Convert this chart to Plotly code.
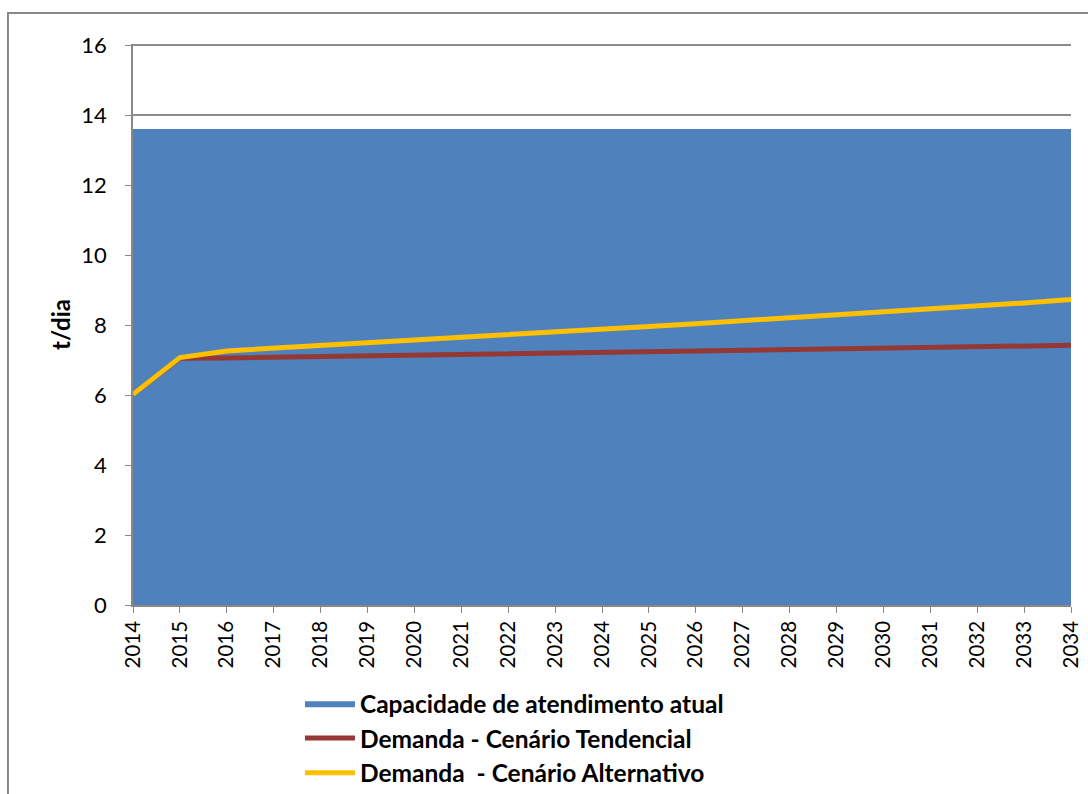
import plotly.graph_objects as go

years = list(range(2014, 2035))
capacidade = [13.6] * 21
tendencial = [6.02, 7.05, 7.06, 7.08, 7.10, 7.12, 7.14, 7.16, 7.18, 7.20, 7.22, 7.24,
              7.26, 7.28, 7.30, 7.32, 7.34, 7.36, 7.38, 7.40, 7.42]
alternativo = [6.02, 7.07, 7.26, 7.33, 7.41, 7.49, 7.57, 7.65, 7.72, 7.80, 7.88, 7.96,
               8.04, 8.12, 8.20, 8.28, 8.37, 8.45, 8.54, 8.63, 8.73]
y_ticks = [0, 2, 4, 6, 8, 10, 12, 14, 16]

font_main = "Lato, 'Open Sans', sans-serif"

fig = go.Figure()
fig.add_trace(go.Scatter(
    x=years, y=capacidade, mode="lines", fill="tozeroy",
    fillcolor="#4F81BD", line=dict(color="#4F81BD", width=0),
    name="Capacidade de atendimento atual"))
fig.add_trace(go.Scatter(
    x=years, y=tendencial, mode="lines",
    line=dict(color="#953735", width=5),
    name="Demanda - Cenário Tendencial"))
fig.add_trace(go.Scatter(
    x=years, y=alternativo, mode="lines",
    line=dict(color="#FFC000", width=5),
    name="Demanda  - Cenário Alternativo"))

fig.update_layout(
    width=1088, height=794,
    margin=dict(l=133, r=17, t=44, b=189, autoexpand=False),
    paper_bgcolor="white", plot_bgcolor="white",
    font=dict(family=font_main, size=20, color="black"),
    showlegend=True,
    legend=dict(x=0.178, y=-0.135, xanchor="left", yanchor="top",
                font=dict(size=24.5, family=font_main, weight="bold"),
                bgcolor="rgba(0,0,0,0)", tracegroupgap=0, itemwidth=50),
    xaxis=dict(range=[2014, 2034], tickmode="array", tickvals=years,
               ticktext=[str(y) for y in years], tickangle=-90,
               showgrid=False, zeroline=False, showline=True, automargin=False,
               linecolor="#888888", linewidth=1.5, ticks="outside",
               ticklen=6, tickcolor="#888888", tickfont=dict(size=20.5)),
    yaxis=dict(range=[0, 16.03], tickvals=y_ticks, showgrid=True,
               gridcolor="#8c8c8c", gridwidth=1.5, zeroline=False, automargin=False,
               showline=True, linecolor="#888888", linewidth=1.5,
               ticks="outside", ticklen=6, tickcolor="#888888",
               tickfont=dict(size=22), ticklabelstandoff=14,
               title=dict(text="<b>t/dia</b>", font=dict(size=24), standoff=4)),
    shapes=[dict(type="rect", xref="paper", yref="paper",
                 x0=-0.1333, x1=1.05, y0=-0.4, y1=1.0553,
                 line=dict(color="#888888", width=2), fillcolor="rgba(0,0,0,0)",
                 layer="below")],
)

fig.write_html("out.html")
